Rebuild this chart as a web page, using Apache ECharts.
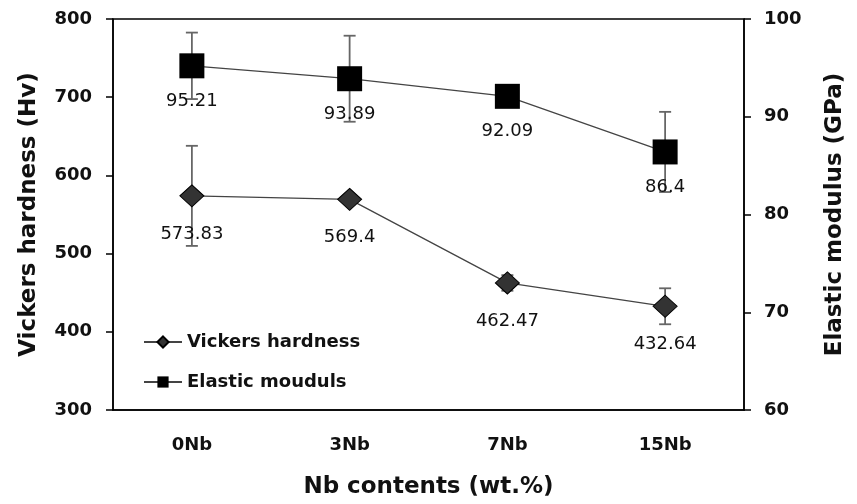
<!DOCTYPE html>
<html><head><meta charset="utf-8">
<script src="https://cdn.jsdelivr.net/npm/echarts@6/dist/echarts.min.js"></script>
<style>html,body{margin:0;padding:0;background:#fff}#c{width:857px;height:504px}</style>
</head><body><div id="c"></div>
<script>
const categories = ['0Nb', '3Nb', '7Nb', '15Nb'];
const hardness = [573.83, 569.4, 462.47, 432.64];
const hardnessErr = [64, 4, 10, 23];
const modulus = [95.21, 93.89, 92.09, 86.4];
const modulusErr = [3.4, 4.4, 0.6, 4.1];
const leftTicks = [300, 800, 100];
const rightTicks = [60, 100, 10];

const FONT = '"DejaVu Sans", "Noto Sans", sans-serif';
const chart = echarts.init(document.getElementById('c'));

function errSeries(vals, errs, yIdx) {
  return {
    type: 'custom', yAxisIndex: yIdx, z: 1, silent: true,
    data: vals.map((v, i) => [i, v - errs[i], v + errs[i]]),
    renderItem: function (params, api) {
      const lo = api.coord([api.value(0), api.value(1)]);
      const hi = api.coord([api.value(0), api.value(2)]);
      const w = 6;
      const st = { stroke: '#666', lineWidth: 1.8 };
      return { type: 'group', children: [
        { type: 'line', shape: { x1: hi[0], y1: hi[1], x2: lo[0], y2: lo[1] }, style: st },
        { type: 'line', shape: { x1: hi[0] - w, y1: hi[1], x2: hi[0] + w, y2: hi[1] }, style: st },
        { type: 'line', shape: { x1: lo[0] - w, y1: lo[1], x2: lo[0] + w, y2: lo[1] }, style: st }
      ]};
    }
  };
}

const tickStyle = { color: '#000', width: 1.5 };
chart.setOption({
  animation: false,
  backgroundColor: '#fff',
  grid: { left: 113, right: 113, top: 19, bottom: 93, show: true, borderColor: '#000', borderWidth: 1.5 },
  legend: {
    orient: 'vertical', left: 138, top: 328, itemGap: 22, itemWidth: 38, itemHeight: 14,
    textStyle: { fontFamily: FONT, fontSize: 18, fontWeight: 'bold', color: '#111' },
    data: ['Vickers hardness', 'Elastic mouduls']
  },
  xAxis: {
    type: 'category', data: categories, boundaryGap: true,
    axisLine: { lineStyle: tickStyle },
    axisTick: { inside: false, length: 7, lineStyle: tickStyle },
    axisLabel: { fontFamily: FONT, fontSize: 18, fontWeight: 'bold', color: '#111', margin: 26 },
    name: 'Nb contents (wt.%)', nameLocation: 'middle', nameGap: 66,
    nameTextStyle: { fontFamily: FONT, fontSize: 23, fontWeight: 'bold', color: '#111' }
  },
  yAxis: [
    {
      type: 'value', min: leftTicks[0], max: leftTicks[1], interval: leftTicks[2], position: 'left',
      splitLine: { show: false },
      axisLine: { show: true, lineStyle: tickStyle },
      axisTick: { show: true, length: 7, lineStyle: tickStyle },
      axisLabel: { fontFamily: FONT, fontSize: 18, fontWeight: 'bold', color: '#111', margin: 21 },
      name: 'Vickers hardness (Hv)', nameLocation: 'middle', nameGap: 72, nameRotate: 90,
      nameTextStyle: { fontFamily: FONT, fontSize: 23, fontWeight: 'bold', color: '#111' }
    },
    {
      type: 'value', min: rightTicks[0], max: rightTicks[1], interval: rightTicks[2], position: 'right',
      splitLine: { show: false },
      axisLine: { show: true, lineStyle: tickStyle },
      axisTick: { show: true, length: 7, lineStyle: tickStyle },
      axisLabel: { fontFamily: FONT, fontSize: 18, fontWeight: 'bold', color: '#111', margin: 20 },
      name: 'Elastic modulus (GPa)', nameLocation: 'middle', nameGap: 80, nameRotate: 90,
      nameTextStyle: { fontFamily: FONT, fontSize: 23, fontWeight: 'bold', color: '#111' }
    }
  ],
  series: [
    errSeries(hardness, hardnessErr, 0),
    errSeries(modulus, modulusErr, 1),
    {
      name: 'Vickers hardness', type: 'line', yAxisIndex: 0, data: hardness, z: 3,
      symbol: 'diamond', symbolSize: [24, 22],
      lineStyle: { color: '#444', width: 1.3 },
      itemStyle: { color: '#333', borderColor: '#000', borderWidth: 1 },
      label: { show: true, position: 'bottom', distance: 18, fontFamily: FONT, fontSize: 18, color: '#111' }
    },
    {
      name: 'Elastic mouduls', type: 'line', yAxisIndex: 1, data: modulus, z: 3,
      symbol: 'rect', symbolSize: 25,
      lineStyle: { color: '#444', width: 1.3 },
      itemStyle: { color: '#000' },
      label: { show: true, position: 'bottom', distance: 14, fontFamily: FONT, fontSize: 18, color: '#111' }
    }
  ]
});
</script></body></html>
